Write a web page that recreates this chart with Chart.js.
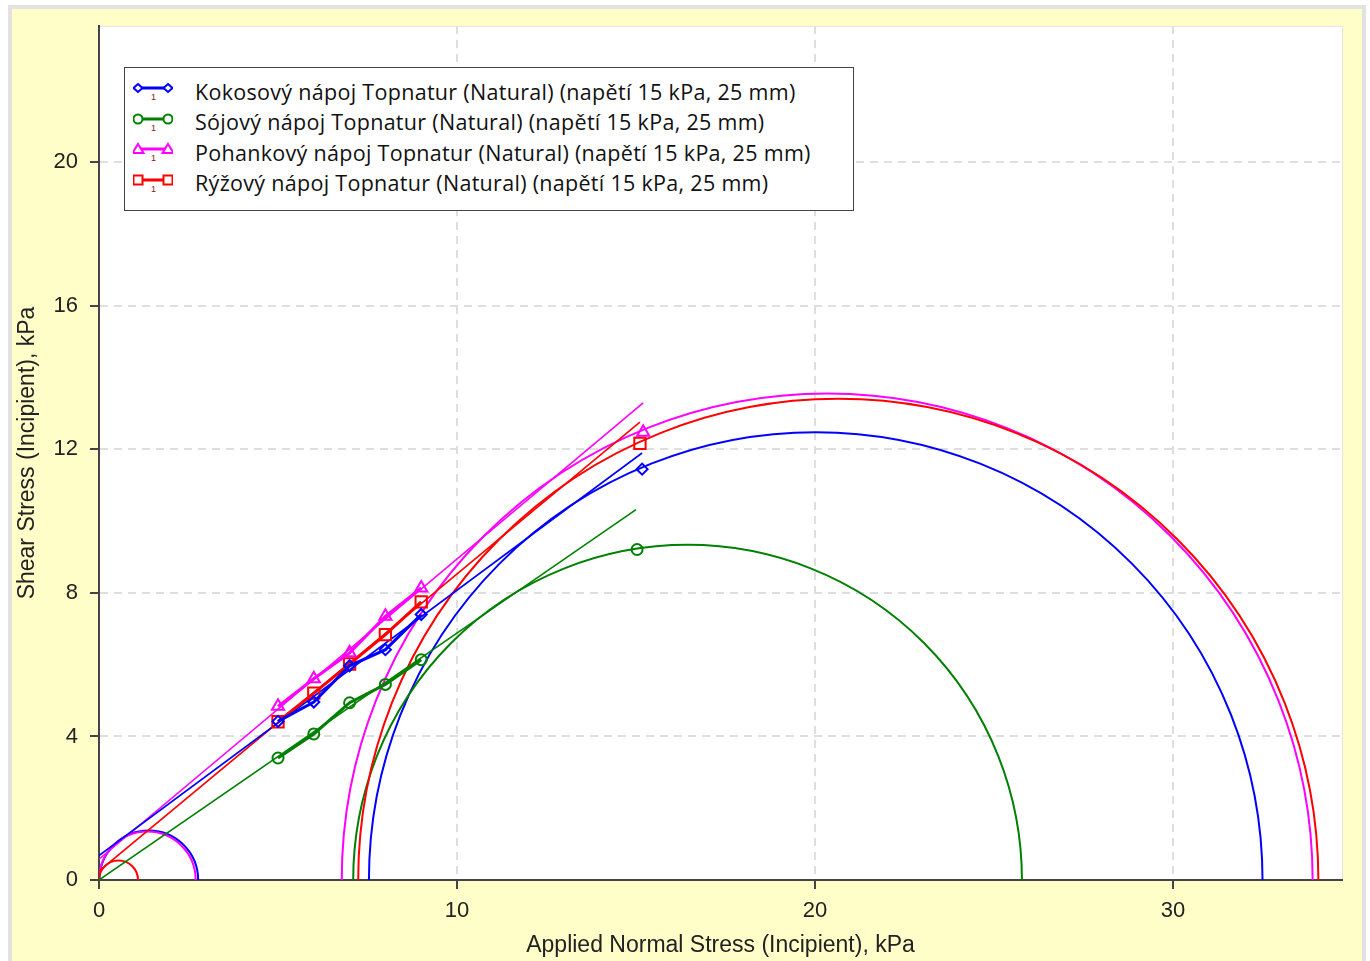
<!DOCTYPE html>
<html>
<head>
<meta charset="utf-8">
<title>Mohr Circles</title>
<script src="https://cdn.jsdelivr.net/npm/chart.js"></script>
<style>
    html, body { margin: 0; padding: 0; background: #fff; }
    #wrap { position: relative; width: 1370px; height: 961px; }
    #legend {
        position: absolute; left: 124px; top: 67px; width: 730px; height: 144px;
        box-sizing: border-box; border: 1.5px solid #444; background: #fff;
        font-family: "Open Sans", sans-serif; font-size: 21.5px; letter-spacing: 0.3px; color: #111;
        padding-top: 8px;
    }
    .row { height: 30.5px; display: flex; align-items: center; white-space: nowrap; }
    .row svg { margin-left: 8px; margin-right: 22px; flex: none; }
</style>
</head>
<body>
<div id="wrap">
    <canvas id="chart" width="1370" height="961"></canvas>
    <div id="legend"></div>
</div>
<script>
    // series
    const seriesNames = [
        'Kokosový nápoj Topnatur (Natural) (napětí 15 kPa, 25 mm)',
        'Sójový nápoj Topnatur (Natural) (napětí 15 kPa, 25 mm)',
        'Pohankový nápoj Topnatur (Natural) (napětí 15 kPa, 25 mm)',
        'Rýžový nápoj Topnatur (Natural) (napětí 15 kPa, 25 mm)'
    ];
    const seriesColors = ['#0000ff', '#008000', '#ff00ff', '#ff0000'];
    const seriesMarkers = ['rectRot', 'circle', 'triangle', 'rect'];
    const markerSizes = [5.5, 5.5, 7, 8];

    // measured points (normal stress, shear stress), kPa
    const normalStress = [5, 6, 7, 8, 9];
    const kokosShear = [4.42, 4.96, 5.97, 6.42, 7.40];
    const sojaShear = [3.40, 4.07, 4.94, 5.45, 6.14];
    const pohankaShear = [4.84, 5.61, 6.33, 7.35, 8.14];
    const ryzeShear = [4.41, 5.21, 6.02, 6.84, 7.75];

    // single point at ~15 kPa
    const lastNormal = [15.17, 15.03, 15.20, 15.11];
    const lastShear = [11.45, 9.21, 12.48, 12.17];

    // failure envelopes
    const envStartShear = [0.68, 0.0, 0.58, 0.25];
    const envEndNormal = [15.17, 15.0, 15.20, 15.11];
    const envEndShear = [11.9, 10.32, 13.3, 12.76];

    // Mohr circles: center and radius on the normal-stress axis
    const circleSeries = [0, 2, 3, 0, 1, 2, 3];
    const circleCenters = [1.39, 1.35, 0.545, 20.02, 16.44, 20.34, 20.65];
    const circleRadii = [1.38, 1.35, 0.545, 12.48, 9.34, 13.56, 13.41];

    // axes
    const xTicks = [0, 10, 20, 30];
    const yTicks = [0, 4, 8, 12, 16, 20];
    const xMax = 34.72;
    const yMax = 23.8;

    const shearSets = [kokosShear, sojaShear, pohankaShear, ryzeShear];

    const datasets = [];
    shearSets.forEach((vals, i) => {
        datasets.push({
            label: seriesNames[i],
            data: normalStress.map((x, k) => ({ x: x, y: vals[k] })),
            showLine: true,
            borderColor: seriesColors[i],
            borderWidth: 3,
            pointStyle: seriesMarkers[i],
            pointRadius: markerSizes[i],
            pointBorderWidth: 2,
            pointBorderColor: seriesColors[i],
            pointBackgroundColor: 'rgba(0,0,0,0)'
        });
    });
    shearSets.forEach((vals, i) => {
        datasets.push({
            label: 'last' + i,
            data: [{ x: lastNormal[i], y: lastShear[i] }],
            showLine: false,
            pointStyle: seriesMarkers[i],
            pointRadius: markerSizes[i],
            pointBorderWidth: 2,
            pointBorderColor: seriesColors[i],
            pointBackgroundColor: 'rgba(0,0,0,0)'
        });
    });
    shearSets.forEach((vals, i) => {
        datasets.push({
            label: 'envelope' + i,
            data: [{ x: 0, y: envStartShear[i] }, { x: envEndNormal[i], y: envEndShear[i] }],
            showLine: true,
            borderColor: seriesColors[i],
            borderWidth: 1.6,
            pointRadius: 0
        });
    });

    const backdrop = {
        id: 'backdrop',
        beforeDraw(chart) {
            const { ctx, chartArea: a, width, height } = chart;
            ctx.save();
            ctx.fillStyle = '#ffffff';
            ctx.fillRect(0, 0, width, height);
            ctx.fillStyle = '#e2e2e2';
            ctx.fillRect(8, 5, 1358, height);
            ctx.fillStyle = '#fffdc8';
            ctx.fillRect(12, 9, 1350, height);
            ctx.fillStyle = '#ffffff';
            ctx.fillRect(a.left, a.top, a.right - a.left, a.bottom - a.top);
            ctx.strokeStyle = '#e4e4e4';
            ctx.lineWidth = 1;
            ctx.strokeRect(a.left + 0.5, a.top + 0.5, a.right - a.left, a.bottom - a.top);
            ctx.restore();
        }
    };

    const mohrCircles = {
        id: 'mohrCircles',
        beforeDatasetsDraw(chart) {
            const { ctx, chartArea: a, scales: { x, y } } = chart;
            ctx.save();
            ctx.beginPath();
            ctx.rect(a.left, a.top, a.right - a.left, a.bottom - a.top);
            ctx.clip();
            ctx.lineWidth = 2;
            circleCenters.forEach((c, i) => {
                const cx = x.getPixelForValue(c);
                const cy = y.getPixelForValue(0);
                const rx = x.getPixelForValue(c + circleRadii[i]) - cx;
                const ry = cy - y.getPixelForValue(circleRadii[i]);
                ctx.strokeStyle = seriesColors[circleSeries[i]];
                ctx.beginPath();
                ctx.ellipse(cx, cy, rx, ry, 0, Math.PI, 2 * Math.PI);
                ctx.stroke();
            });
            ctx.restore();
        }
    };

    Chart.defaults.font.family = '"Liberation Sans", Arial, sans-serif';
    Chart.defaults.color = '#222';

    const gridStyle = {
        color: '#dedede',
        lineWidth: 2,
        tickColor: '#444',
        tickWidth: 2,
        tickLength: 9
    };
    const borderStyle = { color: '#444', width: 2, dash: [8, 6] };

    new Chart(document.getElementById('chart'), {
        type: 'scatter',
        data: { datasets: datasets },
        options: {
            responsive: false,
            animation: false,
            devicePixelRatio: 1,
            layout: { padding: { left: 0, right: 28, top: 26, bottom: 0 } },
            plugins: { legend: { display: false }, tooltip: { enabled: false } },
            scales: {
                x: {
                    type: 'linear', min: 0, max: xMax,
                    afterBuildTicks(s) { s.ticks = xTicks.map(v => ({ value: v })); },
                    afterFit(s) { s.height = 81; },
                    grid: gridStyle,
                    border: borderStyle,
                    ticks: { font: { size: 22 }, padding: 9, maxRotation: 0 },
                    title: {
                        display: true, text: 'Applied Normal Stress (Incipient), kPa',
                        font: { size: 23 }, padding: { top: 0, bottom: 2 }
                    }
                },
                y: {
                    type: 'linear', min: 0, max: yMax,
                    afterBuildTicks(s) { s.ticks = yTicks.map(v => ({ value: v })); },
                    afterFit(s) { s.width = 99; },
                    grid: gridStyle,
                    border: borderStyle,
                    ticks: { font: { size: 22 }, padding: 12 },
                    title: {
                        display: true, text: 'Shear Stress (Incipient), kPa',
                        font: { size: 23 }, padding: { top: 14, bottom: 0 }
                    }
                }
            }
        },
        plugins: [backdrop, mohrCircles]
    });

    // legend box inside the plot
    function legendIcon(i) {
        const c = seriesColors[i];
        const m = seriesMarkers[i];
        function marker(cx) {
            if (m === 'rectRot') return `<polygon points="${cx},4 ${cx + 4.5},8 ${cx},12 ${cx - 4.5},8" fill="#fff" stroke="${c}" stroke-width="2"/>`;
            if (m === 'circle') return `<circle cx="${cx}" cy="8" r="4.5" fill="#fff" stroke="${c}" stroke-width="2"/>`;
            if (m === 'triangle') return `<polygon points="${cx},3 ${cx + 5.5},12 ${cx - 5.5},12" fill="#fff" stroke="${c}" stroke-width="2"/>`;
            return `<rect x="${cx - 4.5}" y="3.5" width="9" height="9" fill="#fff" stroke="${c}" stroke-width="2"/>`;
        }
        return `<svg width="40" height="22" viewBox="0 0 40 22">
            <line x1="5" y1="8" x2="35" y2="8" stroke="${c}" stroke-width="3"/>
            ${marker(5)}${marker(35)}
            <text x="18" y="20" font-family="Liberation Sans, Arial" font-size="9" fill="#8b2020">1</text>
        </svg>`;
    }
    document.getElementById('legend').innerHTML = seriesNames.map((name, i) =>
        `<div class="row">${legendIcon(i)}<span>${name}</span></div>`).join('');
</script>
</body>
</html>
